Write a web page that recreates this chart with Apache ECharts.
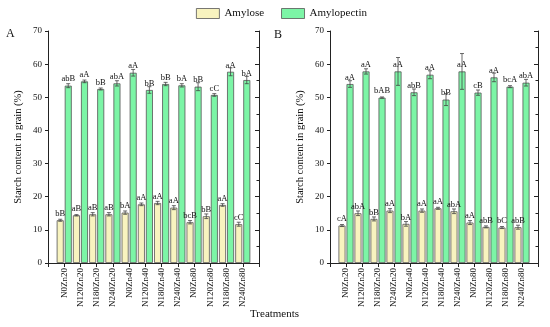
<!DOCTYPE html>
<html><head><meta charset="utf-8">
<script src="https://cdn.jsdelivr.net/npm/echarts@6/dist/echarts.min.js"></script>
<style>html,body{margin:0;padding:0;background:#fff}#c{width:550px;height:327px}</style>
</head><body><div id="c"></div>
<script>
const categories = ['N0Zn20','N120Zn20','N180Zn20','N240Zn20','N0Zn40','N120Zn40','N180Zn40','N240Zn40','N0Zn80','N120Zn80','N180Zn80','N240Zn80'];
const yTicks = [0,10,20,30,40,50,60,70];
// Panel A
const aAmylose = [12.9,14.4,14.7,14.7,15.2,17.7,18.1,16.7,12.3,14.1,17.5,11.7];
const aAmyloseErr = [0.3,0.2,0.5,0.5,0.5,0.4,0.5,0.6,0.5,0.7,0.4,0.6];
const aAmyloseSig = ['bB','aB','aB','aB','bA','aA','aA','aA','bcB','bB','aA','cC'];
const aAmylopectin = [53.5,54.8,52.5,54.2,57.4,52.2,54.0,53.6,53.2,50.7,57.7,55.2];
const aAmylopectinErr = [0.6,0.4,0.3,0.8,1.0,1.0,0.5,0.5,1.2,0.4,1.2,1.1];
const aAmylopectinSig = ['abB','aA','bB','abA','aA','bB','bB','bA','bB','cC','aA','bA'];
// Panel B
const bAmylose = [11.3,15.0,13.3,15.8,11.8,15.8,16.5,15.6,12.2,10.9,10.7,10.8];
const bAmyloseErr = [0.3,0.7,0.6,0.6,0.7,0.5,0.3,0.7,0.6,0.3,0.3,0.6];
const bAmyloseSig = ['cA','abA','bB','aA','bA','aA','aA','abA','aA','abB','bC','abB'];
const bAmylopectin = [54.0,57.8,49.9,57.8,51.5,56.8,49.3,57.8,51.4,56.0,53.2,54.4];
const bAmylopectinErr = [1.0,0.8,0.2,4.2,1.0,1.2,1.8,5.4,0.8,1.3,0.3,1.0];
const bAmylopectinSig = ['aA','aA','bAB','aA','abB','aA','bB','aA','cB','aA','bcA','abA'];

const FONT = '"Liberation Serif", "Times New Roman", serif';
const AXC = '#222';
const C_AMY = '#f8f3bf';
const C_AMP = '#7cf5a6';
const BW = 7;
const pad = a => [null, ...a, null];
const cats = ['', ...categories, ''];

function xAxes(gi) {
  return [
    { type:'category', gridIndex:gi, data:cats, boundaryGap:false, position:'bottom',
      axisLine:{lineStyle:{color:AXC}}, axisTick:{show:false},
      axisLabel:{interval:0, rotate:90, fontFamily:FONT, fontSize:9, color:'#111', margin:5} },
    { type:'category', gridIndex:gi, data:cats, boundaryGap:false, position:'top',
      axisLine:{lineStyle:{color:AXC}}, axisTick:{show:true, inside:true, length:4, interval:0, lineStyle:{color:AXC}},
      axisLabel:{show:false} }
  ];
}
function yAxes(gi) {
  return [
    { type:'value', gridIndex:gi, min:0, max:70, interval:10, position:'left',
      name:'Starch content in grain (%)', nameLocation:'middle', nameGap:24,
      nameTextStyle:{fontFamily:FONT, fontSize:10.5, color:'#111'},
      axisLine:{show:true, lineStyle:{color:AXC}}, axisTick:{show:true, length:3, lineStyle:{color:AXC}},
      splitLine:{show:false},
      axisLabel:{fontFamily:FONT, fontSize:9, color:'#111', margin:6,
        formatter: v => yTicks.includes(v) ? String(v) : ''} },
    { type:'value', gridIndex:gi, min:0, max:70, interval:10, position:'right',
      axisLine:{show:true, lineStyle:{color:AXC}}, axisTick:{show:true, inside:true, length:4, lineStyle:{color:AXC}},
      minorTick:{show:true, splitNumber:2, length:2.5, lineStyle:{color:AXC}},
      splitLine:{show:false}, axisLabel:{show:false} }
  ];
}
function barSeries(name, vals, sig, xi, yi, color) {
  const s = pad(sig);
  return { type:'bar', name, xAxisIndex:xi, yAxisIndex:yi, data:pad(vals), barWidth:BW, barGap:'15%',
    itemStyle:{color, borderColor:'#555', borderWidth:0.8},
    label:{show:true, position:'top', distance:2, fontFamily:FONT, fontSize:8.5, color:'#111',
      formatter: p => s[p.dataIndex] || ''},
    z:2 };
}
function errSeries(vals, errs, xi, yi, off) {
  const data = vals.map((v,i)=>[i+1, v, errs[i]]);
  return { type:'custom', xAxisIndex:xi, yAxisIndex:yi, data, z:5, silent:true,
    renderItem:(params, api)=>{
      const x = api.value(0), v = api.value(1), e = api.value(2);
      const hi = api.coord([x, v+e]), lo = api.coord([x, v-e]);
      const cx = hi[0] + off, cw = 2;
      const st = {stroke:'#444', lineWidth:0.8};
      return {type:'group', children:[
        {type:'line', shape:{x1:cx, y1:hi[1], x2:cx, y2:lo[1]}, style:st},
        {type:'line', shape:{x1:cx-cw, y1:hi[1], x2:cx+cw, y2:hi[1]}, style:st},
        {type:'line', shape:{x1:cx-cw, y1:lo[1], x2:cx+cw, y2:lo[1]}, style:st}
      ]};
    } };
}
const OFF = (BW + 1) / 2;
const chart = echarts.init(document.getElementById('c'), null, {renderer:'canvas'});
chart.setOption({
  animation:false,
  backgroundColor:'#fff',
  legend:{ left:191, top:3, itemWidth:23, itemHeight:10, itemGap:17, icon:'rect', data:['Amylose','Amylopectin'],
    textStyle:{fontFamily:FONT, fontSize:11, color:'#111'},
    itemStyle:{borderColor:'#555', borderWidth:0.8} },
  grid:[
    {left:48, top:31, width:211, height:232},
    {left:330, top:31, width:208, height:232}
  ],
  xAxis:[...xAxes(0), ...xAxes(1)],
  yAxis:[...yAxes(0), ...yAxes(1)],
  series:[
    barSeries('Amylose', aAmylose, aAmyloseSig, 0, 0, C_AMY),
    barSeries('Amylopectin', aAmylopectin, aAmylopectinSig, 0, 0, C_AMP),
    errSeries(aAmylose, aAmyloseErr, 0, 0, -OFF),
    errSeries(aAmylopectin, aAmylopectinErr, 0, 0, OFF),
    barSeries('Amylose', bAmylose, bAmyloseSig, 2, 2, C_AMY),
    barSeries('Amylopectin', bAmylopectin, bAmylopectinSig, 2, 2, C_AMP),
    errSeries(bAmylose, bAmyloseErr, 2, 2, -OFF),
    errSeries(bAmylopectin, bAmylopectinErr, 2, 2, OFF)
  ],
  graphic:[
    {type:'text', left:6, top:28, style:{text:'A', font:'12px '+FONT, fill:'#111'}},
    {type:'text', left:274, top:29, style:{text:'B', font:'12px '+FONT, fill:'#111'}},
    {type:'text', left:250, top:309, style:{text:'Treatments', font:'11px '+FONT, fill:'#111'}}
  ]
});
</script></body></html>
